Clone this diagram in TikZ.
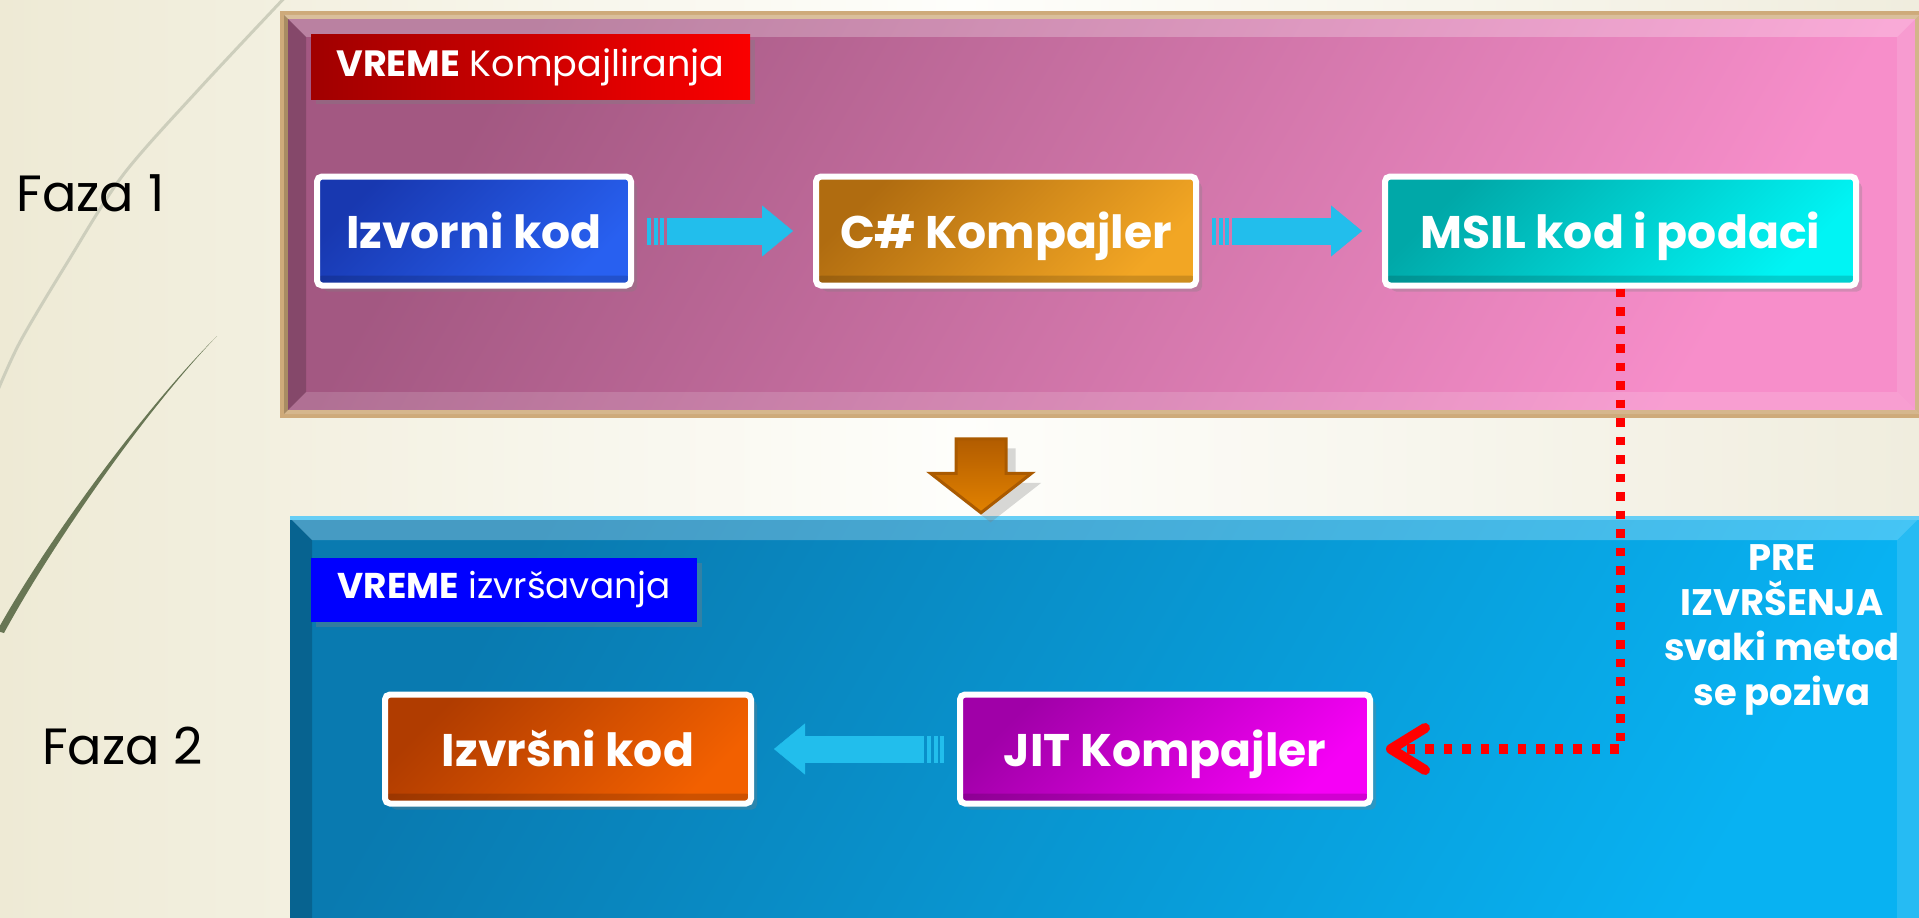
\documentclass[tikz,border=0pt]{standalone}
\usepackage{fontspec}
\setmainfont{Poppins}
\usetikzlibrary{arrows.meta,positioning,calc,shapes.arrows,shadows}
\definecolor{bgbeige}{RGB}{238,234,213}
\definecolor{bglight}{RGB}{254,254,251}
\definecolor{bgright}{RGB}{240,237,222}
\definecolor{linegray}{RGB}{205,206,188}
\definecolor{lineolive}{RGB}{104,118,84}
\definecolor{pinkdark}{RGB}{163,88,130}
\definecolor{pinklight}{RGB}{247,142,202}
\definecolor{panelrim}{RGB}{206,170,122}
\definecolor{bluedark}{RGB}{9,122,176}
\definecolor{bluelight}{RGB}{8,178,242}
\definecolor{lblred}{RGB}{250,0,0}
\definecolor{lblreddark}{RGB}{160,0,0}
\definecolor{lblblue}{RGB}{0,0,255}
\definecolor{srcdark}{RGB}{24,56,176}
\definecolor{srclight}{RGB}{40,96,240}
\definecolor{cscdark}{RGB}{176,108,16}
\definecolor{csclight}{RGB}{242,166,36}
\definecolor{msildark}{RGB}{0,168,168}
\definecolor{msillight}{RGB}{0,244,244}
\definecolor{exedark}{RGB}{176,60,0}
\definecolor{exelight}{RGB}{242,96,0}
\definecolor{jitdark}{RGB}{160,0,168}
\definecolor{jitlight}{RGB}{246,0,246}
\definecolor{flowcyan}{RGB}{34,190,236}
\definecolor{phasedark}{RGB}{178,92,0}
\definecolor{phaselight}{RGB}{226,130,0}
\definecolor{phaseedge}{RGB}{170,90,0}

\begin{document}
\begin{tikzpicture}[
  panel/.style={inner sep=0pt, outer sep=0pt},
  stagebox/.style 2 args={draw=white, line width=0.6mm, rounded corners=0.5mm,
    inner sep=0pt, minimum height=1.09cm, text=white,
    text height=0.34cm, text depth=0pt,
    font=\fontsize{13}{15}\selectfont\bfseries,
    top color=#1, bottom color=#2, shading angle=45,
    drop shadow={opacity=0.3, shadow xshift=0.06cm, shadow yshift=-0.06cm},
    path picture={\fill[black, opacity=0.15]
      (path picture bounding box.south west) rectangle
      ([yshift=0.1cm]path picture bounding box.south east);}},
  timelabel/.style={inner sep=0pt, minimum height=0.64cm, text=white,
    drop shadow={opacity=0.35, shadow xshift=0.05cm, shadow yshift=-0.05cm}},
  flowarrow/.style={draw=flowcyan, line width=2.7mm, shorten <=3.3mm, shorten >=2mm,
    -{Triangle[length=3.1mm, width=5.1mm, line width=0.1pt]},
    preaction={draw=flowcyan, -, line width=2.7mm, shorten <=1.3mm,
      dash pattern=on 0.4mm off 0.25mm on 0.4mm off 0.25mm on 0.4mm off 40mm}},
  calldots/.style={draw=red, line width=0.95mm, dash pattern=on 0.85mm off 1.0mm,
    shorten >=1.3mm, -{Straight Barb[length=3.4mm, width=4.2mm, round, line width=1mm]}},
  phasearrow/.style={single arrow, rotate=-90, inner xsep=0pt, inner ysep=0.235cm,
    minimum height=0.74cm, single arrow head extend=0.255cm, single arrow tip angle=104,
    top color=phasedark, bottom color=phaselight, draw=phaseedge, line width=0.3mm,
    drop shadow={opacity=0.3}}
]
\useasboundingbox (0,0) rectangle (19.19,9.17);
\clip (0,0) rectangle (19.19,9.17);
% -- Background and side curves --
\fill[left color=bgbeige, right color=bgright, middle color=bglight] (0,0) rectangle (19.19,9.17);
\draw[linegray, line width=0.3mm] plot[smooth] coordinates
  {(2.90,9.25) (2.00,8.29) (1.23,7.42) (0.67,6.54) (0.20,5.75) (-0.05,5.20)};
\fill[lineolive] (2.17,5.81) .. controls (1.42,5.06) and (0.45,3.73) .. (-0.03,2.86)
  -- (0.04,2.84) .. controls (0.52,3.72) and (1.44,5.05) .. (2.17,5.81) -- cycle;
\node[font=\fontsize{14.5}{17}\selectfont] (faza1) at (0.905,7.24) {Faza 1};
\node[font=\fontsize{14.5}{17}\selectfont] (faza2) at (1.225,1.71) {Faza 2};
% -- Panels --
\node[panel, minimum width=16.35cm, minimum height=3.99cm, draw=panelrim, line width=0.8mm,
  top color=pinkdark, bottom color=pinklight, shading angle=60] (compile) at (11.015,7.025) {};
\node[panel, minimum width=16.29cm, minimum height=4.39cm,
  top color=bluedark, bottom color=bluelight, shading angle=60] (runtime) at (11.045,1.795) {};
\foreach \p in {compile,runtime} {
  \fill[white, opacity=0.25] (\p.north west) -- (\p.north east) -- ($(\p.north east)+(-0.22,-0.22)$)
    -- ($(\p.north west)+(0.22,-0.22)$) -- cycle;
  \fill[black, opacity=0.18] (\p.north west) -- (\p.south west) -- ($(\p.south west)+(0.22,0.22)$)
    -- ($(\p.north west)+(0.22,-0.22)$) -- cycle;
  \fill[white, opacity=0.15] (\p.south west) -- (\p.south east) -- ($(\p.south east)+(-0.22,0.22)$)
    -- ($(\p.south west)+(0.22,0.22)$) -- cycle;
  \fill[white, opacity=0.12] (\p.north east) -- (\p.south east) -- ($(\p.south east)+(-0.22,0.22)$)
    -- ($(\p.north east)+(-0.22,-0.22)$) -- cycle;
}
\draw[cyan!60, line width=0.4mm] (runtime.north west) -- (runtime.north east);
% -- Time labels --
\node[timelabel, minimum width=4.39cm, left color=lblreddark, right color=lblred,
  font=\fontsize{10.4}{12}\selectfont] (complabel) at (5.305,8.50) {\textbf{VREME} Kompajliranja};
\node[timelabel, minimum width=3.86cm, fill=lblblue,
  font=\fontsize{10.2}{12}\selectfont] (runlabel) at (5.04,3.275) {\textbf{VREME} izvršavanja};
% -- Stages --
\node[stagebox={srcdark}{srclight}, minimum width=3.14cm] (source) at (4.74,6.86) {Izvorni kod};
\node[stagebox={cscdark}{csclight}, minimum width=3.80cm] (csharp) at (10.06,6.86) {C\# Kompajler};
\node[stagebox={msildark}{msillight}, minimum width=4.71cm] (msil) at (16.205,6.86) {MSIL kod i podaci};
\node[stagebox={exedark}{exelight}, minimum width=3.66cm] (native) at (5.68,1.68) {Izvršni kod};
\node[stagebox={jitdark}{jitlight}, minimum width=4.10cm] (jit) at (11.65,1.68) {JIT Kompajler};
% -- Connectors --
\draw[flowarrow] (source) -- (csharp);
\draw[flowarrow] (csharp) -- (msil);
\draw[flowarrow] (jit) -- (native);
\draw[calldots] (msil.south) |- (jit.east);
\node[phasearrow] (phasedown) at (9.81,4.51) {};
\node[font=\fontsize{10.5}{12.8}\selectfont\bfseries, text=white, align=center]
  (callnote) at (17.82,2.87) {PRE\\IZVRŠENJA\\svaki metod\\se poziva};
\end{tikzpicture}
\end{document}
